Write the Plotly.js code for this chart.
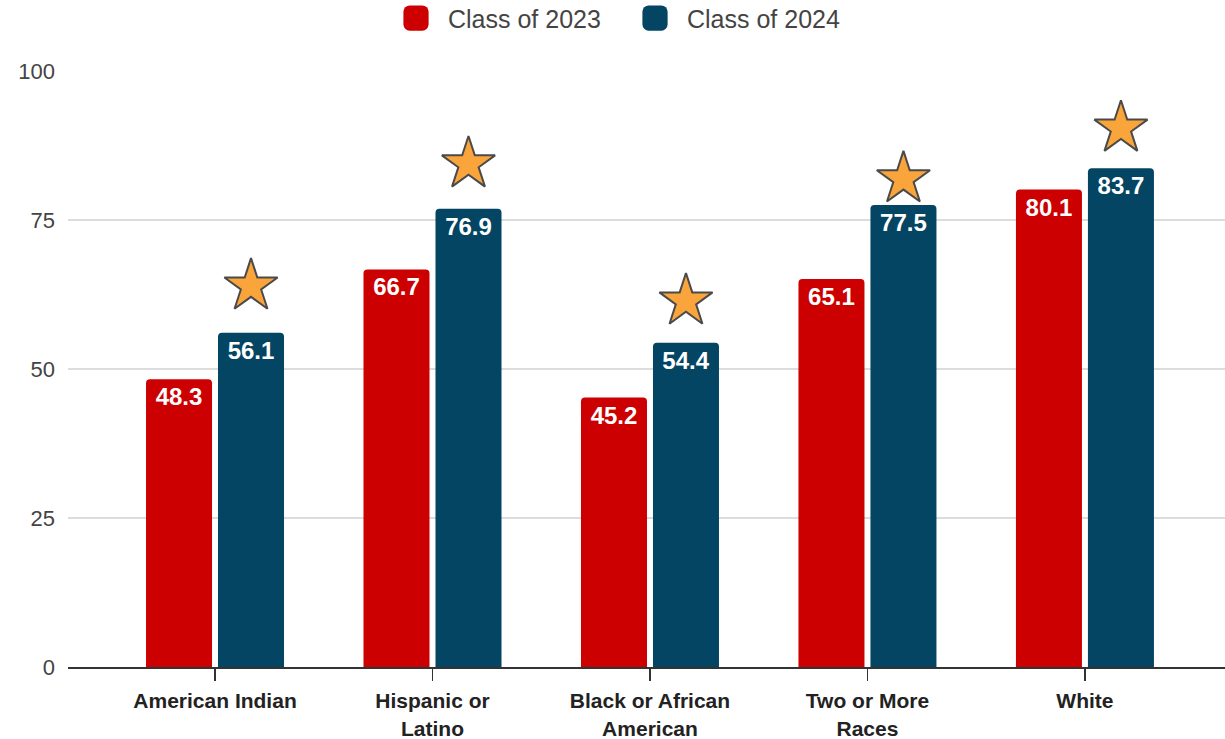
<!DOCTYPE html>
<html>
<head>
<meta charset="utf-8">
<script src="https://cdn.plot.ly/plotly-3.0.1.min.js"></script>
<style>html,body{margin:0;padding:0;background:#fff;}#chart{width:1225px;height:739px;}</style>
</head>
<body>
<div id="chart"></div>
<script>
const categories = ["American Indian", "Hispanic or<br>Latino", "Black or African<br>American", "Two or More<br>Races", "White"];
const class2023 = [48.3, 66.7, 45.2, 65.1, 80.1];
const class2024 = [56.1, 76.9, 54.4, 77.5, 83.7];
const starLevels = [63.9, 84.4, 61.4, 81.9, 90.4];
const seriesNames = ["Class of 2023", "Class of 2024"];
const yTicks = [0, 25, 50, 75, 100];

const red = "#CC0000";
const blue = "#034563";
const labelFont = {family: "Liberation Sans, Arial, sans-serif", size: 24, color: "#ffffff", weight: 700};

const bargap = 0.338, bargroupgap = 0.083;
// offset of the second bar of each group from its category centre (in category units)
const blueOffset = (1 - bargap) / 4;

const traces = [
  {
    type: "bar", name: seriesNames[0], x: categories, y: class2023,
    marker: {color: red, cornerradius: 4},
    text: class2023.map(v => v.toFixed(1)), textposition: "inside", insidetextanchor: "end",
    textfont: labelFont, insidetextfont: labelFont, textangle: 0, hoverinfo: "x+y"
  },
  {
    type: "bar", name: seriesNames[1], x: categories, y: class2024,
    marker: {color: blue, cornerradius: 4},
    text: class2024.map(v => v.toFixed(1)), textposition: "inside", insidetextanchor: "end",
    textfont: labelFont, insidetextfont: labelFont, textangle: 0, hoverinfo: "x+y"
  },
  {
    type: "scatter", mode: "markers", showlegend: false, xaxis: "x2", yaxis: "y",
    x: categories.map((c, i) => i + blueOffset), y: starLevels,
    marker: {symbol: "star", size: 40, color: "#F9A53B", line: {color: "#4a4a4a", width: 2}},
    hoverinfo: "skip"
  }
];

const xr = [-0.676, 4.644];
const layout = {
  width: 1225, height: 739,
  margin: {l: 68, r: 0, t: 71, b: 72, autoexpand: false},
  paper_bgcolor: "#ffffff", plot_bgcolor: "#ffffff",
  barmode: "group", bargap: bargap, bargroupgap: bargroupgap,
  showlegend: true,
  legend: {
    orientation: "h", x: 0.2835, xref: "paper", xanchor: "left", y: 1.127, yanchor: "top",
    font: {family: "Liberation Sans, Arial, sans-serif", size: 25, color: "#444444"},
    traceorder: "normal", itemwidth: 30, entrywidth: 194, entrywidthmode: "pixels"
  },
  xaxis: {
    type: "category", range: xr, fixedrange: true,
    showgrid: false, zeroline: false,
    showline: true, linecolor: "#333333", linewidth: 2,
    ticks: "outside", ticklen: 12, tickwidth: 1.5, tickcolor: "#333333",
    tickfont: {family: "Liberation Sans, Arial, sans-serif", size: 21, color: "#222222", weight: 700},
    ticklabelstandoff: 2
  },
  xaxis2: {overlaying: "x", range: xr, visible: false, fixedrange: true},
  yaxis: {
    range: [0, 100], tickvals: yTicks, ticktext: yTicks.map(String), fixedrange: true,
    showgrid: true, gridcolor: "#dcdcdc", gridwidth: 2,
    zeroline: false, showline: false,
    tickfont: {family: "Liberation Sans, Arial, sans-serif", size: 22, color: "#444444"},
    ticklabelstandoff: 12
  }
};

Plotly.newPlot("chart", traces, layout, {displayModeBar: false, staticPlot: true}).then(() => {
  // enlarge legend swatches
  document.querySelectorAll(".legend .legendpoints path").forEach(p => {
    const t = p.getAttribute("transform") || "";
    p.setAttribute("transform", t + " scale(2.1)");
    p.style.strokeWidth = "0";
  });
  document.querySelectorAll(".legend .legendtext").forEach(t => t.setAttribute("x", "52"));
});
</script>
</body>
</html>
